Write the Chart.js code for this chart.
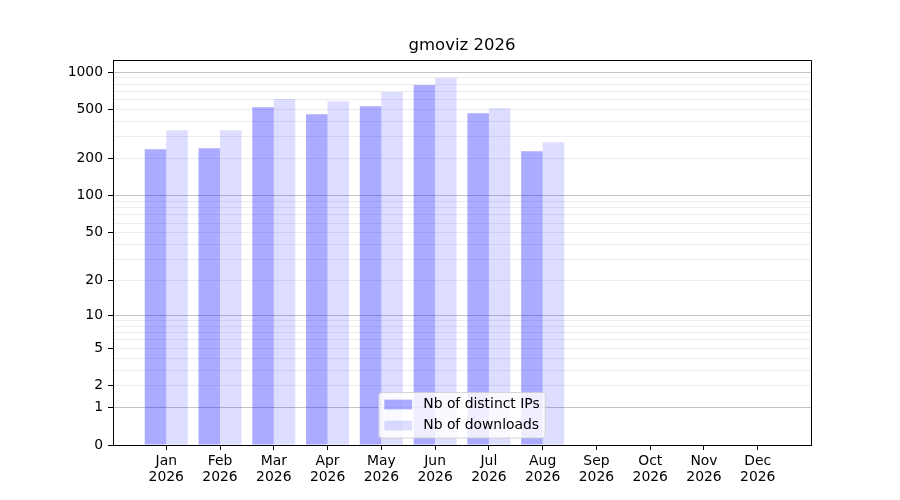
<!DOCTYPE html>
<html>
<head>
<meta charset="utf-8">
<script src="https://cdn.jsdelivr.net/npm/chart.js@4.4.1/dist/chart.umd.min.js"></script>
<style>
  html, body { margin: 0; padding: 0; background: #fff; }
  #wrap { width: 900px; height: 500px; }
</style>
</head>
<body>
<div id="wrap"><canvas id="chart"></canvas></div>
<script>
// data
const months = ["Jan", "Feb", "Mar", "Apr", "May", "Jun", "Jul", "Aug", "Sep", "Oct", "Nov", "Dec"];
const year = "2026";
const distinctIps = [239, 243, 521, 457, 530, 787, 466, 230, 0, 0, 0, 0];
const downloads = [340, 340, 607, 582, 691, 896, 511, 272, 0, 0, 0, 0];

// y ticks: labelled ones, and the full set used for the (minor) grid
const yLabelTicks = [0, 1, 2, 5, 10, 20, 50, 100, 200, 500, 1000];
const yMajorTicks = [1, 10, 100, 1000];
const yGridTicks = [0, 1, 2, 3, 4, 5, 6, 7, 8, 9, 10, 20, 30, 40, 50, 60, 70, 80, 90,
  100, 200, 300, 400, 500, 600, 700, 800, 900, 1000];
const yMax = 1250;

const FONT = '"DejaVu Sans", sans-serif';

// log10(1 + x) scale
const f = v => Math.log10(1 + Math.max(v, 0));
class Log1pScale extends Chart.LinearScale {
  static id = 'log1p';
  static defaults = {};
  buildTicks() {
    return yGridTicks.map(v => ({ value: v }));
  }
  configure() {
    super.configure();
    this._s = f(this.min);
    this._r = f(this.max) - this._s;
  }
  getPixelForValue(value) {
    return this.getPixelForDecimal((f(value) - this._s) / this._r);
  }
  getValueForPixel(pixel) {
    return Math.pow(10, this._s + this.getDecimalForPixel(pixel) * this._r) - 1;
  }
}
Chart.register(Log1pScale);

// centre the title over the axes, not over the whole canvas
const titleOverAxes = {
  id: 'titleOverAxes',
  afterLayout(chart) {
    const t = chart.titleBlock;
    if (!t) return;
    t.left = chart.chartArea.left;
    t.right = chart.chartArea.right;
    t.width = t.right - t.left;
  }
};

// top and right edges of the axes box
const frame = {
  id: 'frame',
  afterDraw(chart) {
    const { ctx, chartArea } = chart;
    const l = Math.round(chartArea.left) + 0.5;
    const r = Math.round(chartArea.right) + 0.5;
    const t = Math.round(chartArea.top) + 0.5;
    const b = Math.round(chartArea.bottom) + 0.5;
    ctx.save();
    ctx.strokeStyle = '#000';
    ctx.lineWidth = 1;
    ctx.beginPath();
    ctx.moveTo(l, t);
    ctx.lineTo(r, t);
    ctx.lineTo(r, b);
    ctx.stroke();
    ctx.restore();
  }
};

// legend inside the axes, lower centre
const legendBox = {
  id: 'legendBox',
  afterDraw(chart) {
    const { ctx, chartArea } = chart;
    const fs = 13.9;
    ctx.save();
    ctx.font = fs + 'px ' + FONT;
    const sets = chart.data.datasets;
    const textW = Math.max(...sets.map(d => ctx.measureText(d.label).width));
    const pad = 0.4 * fs, handle = 2.0 * fs, gap = 0.8 * fs;
    const w = pad * 2 + handle + gap + textW;
    const h = 45.5;
    const x = (chartArea.left + chartArea.right) / 2 - w / 2;
    const y = chartArea.bottom - 0.5 * fs - h;
    ctx.beginPath();
    ctx.roundRect(x, y, w, h, 3);
    ctx.fillStyle = 'rgba(255,255,255,0.8)';
    ctx.fill();
    ctx.strokeStyle = 'rgba(204,204,204,0.8)';
    ctx.lineWidth = 1;
    ctx.stroke();
    ctx.textBaseline = 'middle';
    ctx.textAlign = 'left';
    sets.forEach((d, i) => {
      const cy = y + 12 + i * 21;
      ctx.fillStyle = d.backgroundColor;
      ctx.fillRect(x + pad, cy - 4.9, handle, 9.7);
      ctx.fillStyle = '#000';
      ctx.fillText(d.label, x + pad + handle + gap, cy);
    });
    ctx.restore();
  }
};

new Chart(document.getElementById('chart'), {
  type: 'bar',
  data: {
    datasets: [
      {
        label: 'Nb of distinct IPs',
        data: distinctIps.map((v, i) => ({ x: i, y: v })),
        backgroundColor: 'rgba(0,0,255,0.33)',
        borderWidth: 0,
        categoryPercentage: 0.8,
        barPercentage: 1.0
      },
      {
        label: 'Nb of downloads',
        data: downloads.map((v, i) => ({ x: i, y: v })),
        backgroundColor: 'rgba(0,0,255,0.133)',
        borderWidth: 0,
        categoryPercentage: 0.8,
        barPercentage: 1.0
      }
    ]
  },
  options: {
    responsive: true,
    maintainAspectRatio: false,
    animation: false,
    devicePixelRatio: 1,
    layout: { padding: { left: 0, right: 89, top: 0, bottom: 0 } },
    plugins: {
      legend: { display: false },
      tooltip: { enabled: false },
      title: {
        display: true,
        text: 'gmoviz ' + year,
        color: '#000',
        font: { family: FONT, size: 16.5, weight: 'normal', lineHeight: 1.2 },
        padding: { top: 36, bottom: 4.2 }
      }
    },
    scales: {
      x: {
        type: 'linear',
        min: -0.99,
        max: 11.99,
        offset: false,
        afterBuildTicks: scale => { scale.ticks = months.map((m, i) => ({ value: i })); },
        afterFit: scale => { scale.height = 55; },
        grid: { offset: false, drawOnChartArea: false, drawTicks: true, tickLength: 5, tickColor: '#000' },
        border: { display: true, color: '#000', width: 1 },
        ticks: {
          autoSkip: false,
          maxRotation: 0,
          padding: 3,
          color: '#000',
          font: { family: FONT, size: 13.9, lineHeight: 1.17 },
          callback: (value, index) => [months[index], year]
        }
      },
      y: {
        type: 'log1p',
        min: 0,
        max: yMax,
        afterFit: scale => { scale.width = 113; },
        grid: {
          drawTicks: true,
          tickLength: 5,
          color: ctx => yMajorTicks.includes(ctx.tick.value) ? 'rgba(0,0,0,0.23)' : 'rgba(0,0,0,0.075)',
          tickColor: ctx => yLabelTicks.includes(ctx.tick.value) ? '#000' : 'rgba(0,0,0,0)'
        },
        border: { display: true, color: '#000', width: 1 },
        ticks: {
          autoSkip: false,
          padding: 5,
          color: '#000',
          font: { family: FONT, size: 13.9 },
          callback: value => yLabelTicks.includes(value) ? String(value) : ''
        }
      }
    }
  },
  plugins: [titleOverAxes, frame, legendBox]
});
</script>
</body>
</html>
